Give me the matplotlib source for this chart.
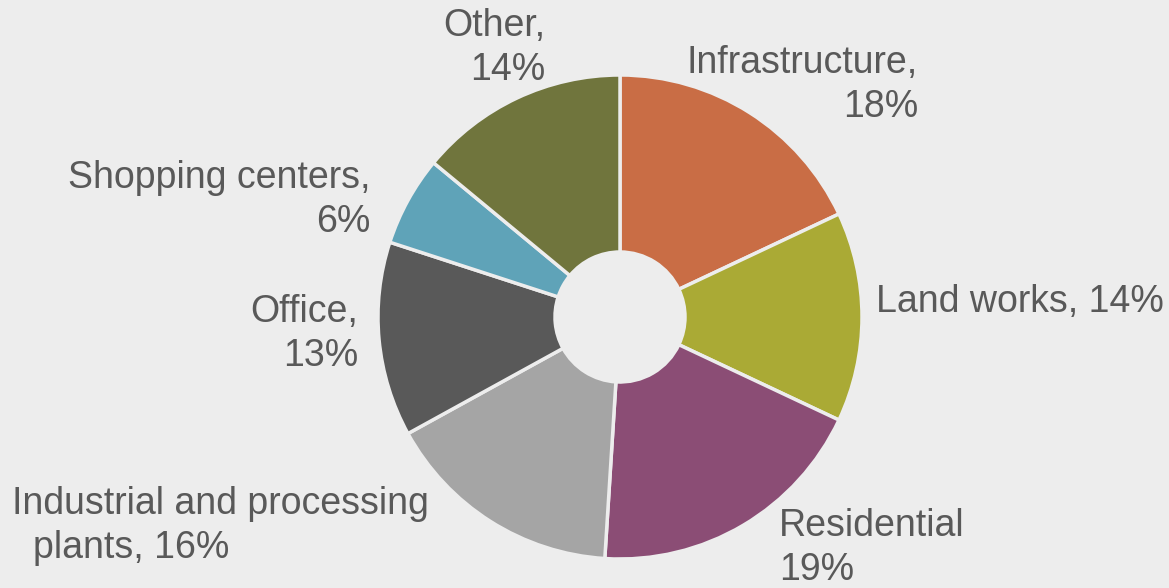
import matplotlib.pyplot as plt

plt.rcParams['font.family'] = ['Liberation Sans', 'DejaVu Sans']

categories = ["Infrastructure", "Land works", "Residential",
              "Industrial and processing plants", "Office",
              "Shopping centers", "Other"]
shares = [18, 14, 19, 16, 13, 6, 14]
colors = ["#C96D45", "#AAAA35", "#8B4D75", "#A5A5A5", "#595959", "#5FA3B8", "#70753D"]

bg = "#EDEDED"
txt = "#595959"
H = 588

fig = plt.figure(figsize=(11.69, 5.88), dpi=100, facecolor=bg)
ax = fig.add_axes([0, 0, 1, 1])
ax.set_facecolor(bg)

ax.pie(shares, colors=colors, startangle=90, counterclock=False,
       center=(620, H - 317), radius=242, frame=True,
       wedgeprops=dict(width=177, edgecolor=bg, linewidth=2.5))
ax.set_xlim(0, 1169)
ax.set_ylim(0, H)
ax.set_aspect('equal')
ax.axis('off')

fs = 27
def lab(x, y, s, ha):
    ax.text(x, H - y, s, ha=ha, va='center', multialignment=ha,
            fontsize=fs, color=txt, linespacing=1.28)

lab(545, 48, "Other,\n14%", 'right')
lab(918, 85, "Infrastructure,\n18%", 'right')
lab(1164, 302, "Land works, 14%", 'right')
lab(370, 200, "Shopping centers,\n6%", 'right')
lab(358, 334, "Office,\n13%", 'right')
lab(779, 548, "Residential\n19%", 'left')
lab(12, 504, "Industrial and processing", 'left')
lab(33, 548, "plants, 16%", 'left')

fig.savefig("out.png", dpi=100, facecolor=bg)
